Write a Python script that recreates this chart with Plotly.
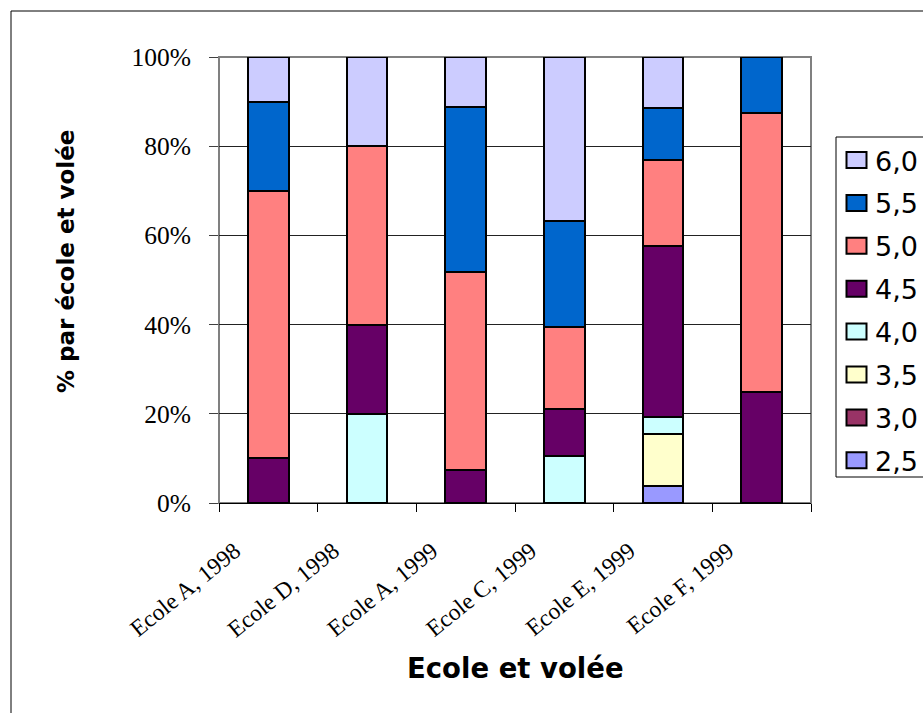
import plotly.graph_objects as go

# Categories (school and cohort)
categories = ["Ecole A, 1998", "Ecole D, 1998", "Ecole A, 1999",
              "Ecole C, 1999", "Ecole E, 1999", "Ecole F, 1999"]

# Share of each grade per school/cohort, in percent
pct_2_5 = [0, 0, 0, 0, 3.85, 0]
pct_3_0 = [0, 0, 0, 0, 0, 0]
pct_3_5 = [0, 0, 0, 0, 11.54, 0]
pct_4_0 = [0, 20, 0, 10.53, 3.85, 0]
pct_4_5 = [10, 20, 7.41, 10.53, 38.46, 25]
pct_5_0 = [60, 40, 44.44, 18.42, 19.23, 62.5]
pct_5_5 = [20, 0, 37.04, 23.68, 11.54, 12.5]
pct_6_0 = [10, 20, 11.11, 36.84, 11.54, 0]

grade_labels = ["2,5", "3,0", "3,5", "4,0", "4,5", "5,0", "5,5", "6,0"]
grade_values = [pct_2_5, pct_3_0, pct_3_5, pct_4_0, pct_4_5, pct_5_0, pct_5_5, pct_6_0]
grade_colors = ["#9999FF", "#993366", "#FFFFCC", "#CCFFFF",
                "#660066", "#FF8080", "#0066CC", "#CCCCFF"]

y_ticks = [0, 20, 40, 60, 80, 100]

# Figure geometry (pixels)
W, H = 923, 713
PL, PR, PT, PB = 219, 811, 57, 503   # plot area edges


def px_x(px):
    return (px - PL) / (PR - PL)


def px_y(py):
    return (PB - py) / (PB - PT)


n = len(categories)
bar_pos = [i + 0.5 for i in range(n)]
label_pos = [i + 0.16 for i in range(n)]

fig = go.Figure()
for name, vals, col in zip(grade_labels, grade_values, grade_colors):
    fig.add_trace(go.Bar(
        x=bar_pos, y=vals, name=name, width=0.41,
        marker=dict(color=col, line=dict(color="black", width=2)),
        showlegend=False,
        hovertext=categories,
    ))

shapes = []
annotations = []

# Outer chart frame
shapes.append(dict(type="rect", xref="paper", yref="paper",
                   x0=px_x(11), x1=px_x(940), y0=px_y(730), y1=px_y(11),
                   line=dict(color="black", width=1), layer="below"))
# Plot-area border
shapes.append(dict(type="rect", xref="paper", yref="paper",
                   x0=0, x1=1, y0=0, y1=1,
                   line=dict(color="#808080", width=2), layer="between"))

# Legend box and entries (top to bottom: 6,0 ... 2,5)
shapes.append(dict(type="rect", xref="paper", yref="paper",
                   x0=px_x(836), x1=px_x(950), y0=px_y(477), y1=px_y(137),
                   line=dict(color="black", width=1), fillcolor="white"))
row_y0, row_step = 160, 42.9
for k, (name, col) in enumerate(zip(grade_labels[::-1], grade_colors[::-1])):
    cy = row_y0 + k * row_step
    shapes.append(dict(type="rect", xref="paper", yref="paper",
                       x0=px_x(846.5), x1=px_x(866.5),
                       y0=px_y(cy + 8), y1=px_y(cy - 8),
                       fillcolor=col, line=dict(color="black", width=2)))
    annotations.append(dict(text=name, xref="paper", yref="paper",
                            x=px_x(873), y=px_y(cy + 1), xanchor="left",
                            yanchor="middle", showarrow=False,
                            font=dict(family="DejaVu Sans", size=27, color="black")))

# Axis titles
annotations.append(dict(text="% par école et volée", xref="paper", yref="paper",
                        x=px_x(66), y=px_y(262), textangle=-90,
                        xanchor="center", yanchor="middle", showarrow=False,
                        font=dict(family="DejaVu Sans", size=23, color="black",
                                  weight="bold")))
annotations.append(dict(text="Ecole et volée", xref="paper", yref="paper",
                        x=px_x(515), y=px_y(668), xanchor="center",
                        yanchor="middle", showarrow=False,
                        font=dict(family="DejaVu Sans", size=27.5, color="black",
                                  weight="bold")))

fig.update_layout(
    width=W, height=H,
    margin=dict(l=PL, r=W - PR, t=PT, b=H - PB, pad=0, autoexpand=False),
    paper_bgcolor="white", plot_bgcolor="white",
    barmode="stack", bargap=0,
    shapes=shapes, annotations=annotations,
    showlegend=False,
)

fig.update_xaxes(
    type="linear", range=[0, n],
    tickmode="array", tickvals=label_pos, ticktext=categories,
    tickangle=-39, ticks="outside", ticklen=0,
    ticklabelstandoff=24,
    tickfont=dict(family="Liberation Serif", size=23.5, color="black"),
    minor=dict(tickmode="array", tickvals=list(range(n + 1)),
               ticks="outside", ticklen=8, tickcolor="black", showgrid=False),
    showgrid=False, zeroline=False,
    showline=True, linecolor="black", linewidth=1,
)

fig.update_yaxes(
    range=[0, 100], tickmode="array", tickvals=y_ticks,
    ticktext=[f"{v}%" for v in y_ticks],
    ticks="outside", ticklen=9, tickcolor="#404040", tickwidth=1,
    ticklabelstandoff=13,
    tickfont=dict(family="Liberation Serif", size=25.5, color="black"),
    showgrid=True, gridcolor="#222222", gridwidth=1,
    zeroline=False, showline=False,
)

fig.write_html("out.html")
